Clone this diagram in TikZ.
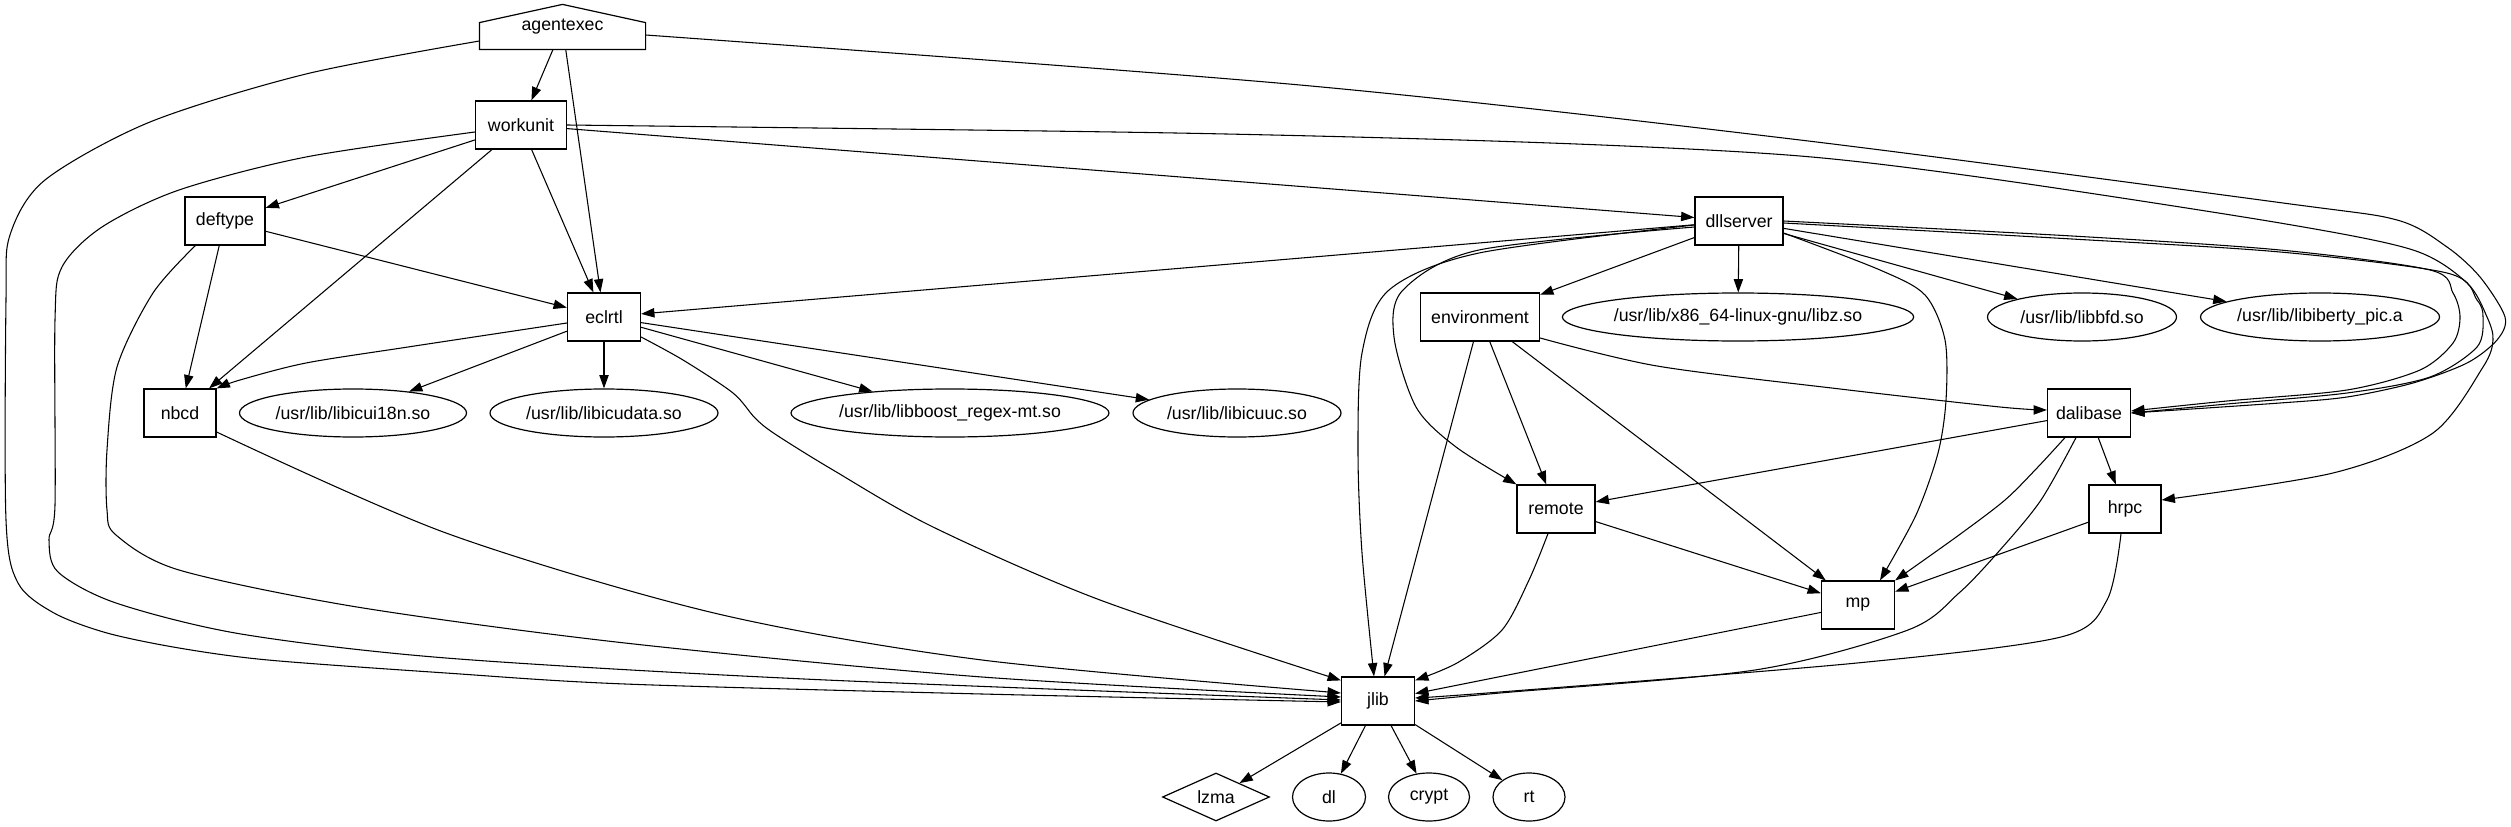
\documentclass[tikz,border=0pt]{standalone}
\usepackage{fontspec}
\setmainfont{Liberation Sans}
\usetikzlibrary{arrows.meta,shapes.geometric,calc}
\begin{document}
\begin{tikzpicture}[x=0.75pt,y=-0.75pt,
  every node/.style={font=\fontsize{13.3}{16}\selectfont, inner sep=0pt, line width=0.9pt},
  box/.style={draw, rectangle, minimum height=36pt},
  ell/.style={draw, ellipse, minimum height=36pt},
  e/.style={line width=0.8pt, -{Triangle[length=10pt,width=7pt]}},
  sm/.style={smooth, tension=0.5}
]
\useasboundingbox (0,0) rectangle (2511,827);

% nodes
\node[rectangle, minimum width=123.75pt, minimum height=33pt] (agentexec) at (562.5,27) {agentexec};
\draw[line width=0.9pt] (agentexec.south west) -- ++(0,-27) -- (agentexec.north) -- ($(agentexec.south east)+(0,-27)$) -- (agentexec.south east) -- cycle;
\node[box, minimum width=68.25pt] (workunit) at (521,125) {workunit};
\node[box, minimum width=60pt] (deftype) at (225,221) {deftype};
\node[box, minimum width=54.75pt] (eclrtl) at (604,317) {eclrtl};
\node[box, minimum width=54pt] (nbcd) at (180,413) {nbcd};
\node[ell, minimum width=170.25pt] (icui18n) at (353,413) {/usr/lib/libicui18n.so};
\node[ell, minimum width=171pt] (icudata) at (604,413) {/usr/lib/libicudata.so};
\node[ell, minimum width=238.5pt] (boost) at (950,413) {/usr/lib/libboost\_regex-mt.so};
\node[ell, minimum width=156pt] (icuuc) at (1237,413) {/usr/lib/libicuuc.so};
\node[box, minimum width=66pt] (dllserver) at (1739,221) {dllserver};
\node[box, minimum width=89.25pt] (environment) at (1480,317) {environment};
\node[ell, minimum width=261pt] (libz) at (1738,317) {/usr/lib/x86\_64-linux-gnu/libz.so};
\node[ell, minimum width=141.75pt] (libbfd) at (2082,317) {/usr/lib/libbfd.so};
\node[ell, minimum width=179.25pt] (libiberty) at (2320,317) {/usr/lib/libiberty\_pic.a};
\node[box, minimum width=62.25pt] (dalibase) at (2089,413) {dalibase};
\node[box, minimum width=58.5pt] (remote) at (1556,509) {remote};
\node[box, minimum width=54pt] (hrpc) at (2125,509) {hrpc};
\node[box, minimum width=54.75pt] (mp) at (1858,605) {mp};
\node[box, minimum width=54.75pt] (jlib) at (1378,701) {jlib};
\node[draw, diamond, aspect=2.2, minimum width=80.25pt, minimum height=36pt] (lzma) at (1216,797) {lzma};
\node[ell, minimum width=54.75pt] (dl) at (1329,797) {dl};
\node[ell, minimum width=60.75pt] (crypt) at (1429,797) {crypt};
\node[ell, minimum width=54pt] (rt) at (1529,797) {rt};

% end points of curved connectors
\coordinate (s1) at ($(agentexec.west)+(0,14)$);
\coordinate (t1) at ($(jlib.west)+(0,1)$);
\coordinate (s2) at ($(workunit.west)+(0,7)$);
\coordinate (t2) at ($(jlib.west)+(0,-1)$);
\coordinate (s3) at ($(deftype.south west)+(11,0)$);
\coordinate (t3) at ($(jlib.west)+(0,-4)$);
\coordinate (s4) at ($(nbcd.east)+(0,19)$);
\coordinate (t4) at ($(jlib.west)+(0,-8)$);
\coordinate (s5) at ($(eclrtl.east)+(0,20)$);
\coordinate (t5) at ($(jlib.north west)+(0,4)$);
\coordinate (s6) at ($(eclrtl.west)+(0,6)$);
\coordinate (s7) at ($(dllserver.west)+(0,4)$);
\coordinate (t7) at ($(jlib.north)+(-4,0)$);
\coordinate (s8) at ($(dllserver.west)+(0,6)$);
\coordinate (s9) at ($(dllserver.east)+(0,12)$);
\coordinate (t9) at ($(mp.north)+(22,0)$);
\coordinate (s10) at ($(environment.east)+(0,21)$);
\coordinate (t10) at ($(dalibase.west)+(0,-3)$);
\coordinate (s11) at ($(agentexec.east)+(0,8)$);
\coordinate (t12) at ($(hrpc.east)+(0,-9)$);
\coordinate (t13) at ($(dalibase.east)+(0,-2)$);
\coordinate (s14) at ($(dllserver.east)+(0,2)$);
\coordinate (s15) at ($(dalibase.south)+(-24,0)$);
\coordinate (s16) at ($(dalibase.south)+(-13,0)$);
\coordinate (s17) at ($(hrpc.south)+(-4,0)$);
\coordinate (t17) at ($(jlib.east)+(0,-3)$);
\coordinate (s18) at ($(remote.south)+(-8,0)$);
\coordinate (t18) at ($(jlib.north east)+(0,4)$);

% straight connectors
\draw[e] (agentexec) -- (workunit);
\draw[e] (agentexec) -- (eclrtl);
\draw[e] (workunit) -- (deftype);
\draw[e] (workunit) -- (nbcd);
\draw[e] (workunit) -- (eclrtl);
\draw[e] (workunit) -- (dllserver);
\draw[e] (deftype) -- (eclrtl);
\draw[e] (deftype) -- (nbcd);
\draw[e] (eclrtl) -- (icui18n);
\draw[e] (eclrtl) -- (icudata);
\draw[e] (eclrtl) -- (boost);
\draw[e] (eclrtl) -- (icuuc);
\draw[e] (dllserver) -- (eclrtl);
\draw[e] (dllserver) -- (environment);
\draw[e] (dllserver) -- (libz);
\draw[e] (dllserver) -- (libbfd);
\draw[e] (dllserver) -- (libiberty);
\draw[e] (environment) -- (jlib);
\draw[e] (environment) -- (remote);
\draw[e] (environment) -- (mp);
\draw[e] (dalibase) -- (remote);
\draw[e] (dalibase) -- (hrpc);
\draw[e] (remote) -- (mp);
\draw[e] (hrpc) -- (mp);
\draw[e] (mp) -- (jlib);
\draw[e] (jlib) -- (lzma);
\draw[e] (jlib) -- (dl);
\draw[e] (jlib) -- (crypt);
\draw[e] (jlib) -- (rt);

% curved connectors
\draw[e] plot[sm] coordinates {(s1) (306,74) (150,122) (45,180) (10,235) (6,300) (6,520) (18,583) (54,613) (107,633) (179,648) (268,660) (446,673) (625,684) (982,694) (t1)};
\draw[e] plot[sm] coordinates {(s2) (306,157) (179,190) (102,227) (62,267) (55,320) (55,505) (49,540) (58,572) (116,603) (241,634) (446,658) (804,679) (t2)};
\draw[e] plot[sm] coordinates {(s3) (153,293) (117,367) (107,450) (107,510) (116,535) (179,570) (357,607) (625,643) (982,677) (t3)};
\draw[e] plot[sm] coordinates {(s4) (446,533) (714,613) (982,660) (t4)};
\draw[e] plot[sm] coordinates {(s5) (683,360) (733,393) (755,418) (775,434) (833,470) (933,527) (1100,600) (t5)};
\draw[e] plot[sm] coordinates {(s6) (408,347) (306,363) (240,380) (nbcd.north east)};
\draw[e] plot[sm] coordinates {(s7) (1479,253) (1389,290) (1362,353) (1358,453) (1362,553) (t7)};
\draw[e] plot[sm] coordinates {(s8) (1479,250) (1403,290) (1394,337) (1416,407) (1456,447) (remote.north west)};
\draw[e] plot[sm] coordinates {(s9) (1880,270) (1925,295) (1945,340) (1946,400) (1938,453) (1916,515) (t9)};
\draw[e] plot[sm] coordinates {(s10) (1657,366) (1840,389) (2000,407) (t10)};
\draw[e] plot[sm] coordinates {(s11) (1300,85) (1800,140) (2283,203) (2397,220) (2447,247) (2480,277) (2505,317) (2497,340) (2467,363) (2413,383) (2347,397) (2280,403) (dalibase.east)};
\draw[e] plot[sm] coordinates {(workunit.east) (1175,133) (1550,143) (1800,156) (2000,180) (2280,223) (2413,250) (2467,283) (2487,317) (2493,340) (2483,367) (2433,433) (2333,473) (t12)};
\draw[e] plot[sm] coordinates {(dllserver.east) (2072,236) (2280,250) (2430,270) (2453,293) (2460,317) (2453,343) (2420,370) (2347,390) (2227,401) (t13)};
\draw[e] plot[sm] coordinates {(s14) (2072,239) (2280,252) (2447,273) (2477,300) (2483,317) (2477,347) (2430,377) (2347,393) (2227,404) (dalibase.east)};
\draw[e] plot[sm] coordinates {(s15) (2037,468) (2005,500) (1959,535) (mp.north east)};
\draw[e] plot[sm] coordinates {(s16) (2041,500) (2000,550) (1959,593) (1908,630) (1755,670) (1500,693) (jlib.east)};
\draw[e] plot[sm] coordinates {(s17) (2107,600) (2061,637) (1857,663) (1500,692) (t17)};
\draw[e] plot[sm] coordinates {(s18) (1529,580) (1502,630) (1457,663) (t18)};
\end{tikzpicture}
\end{document}
